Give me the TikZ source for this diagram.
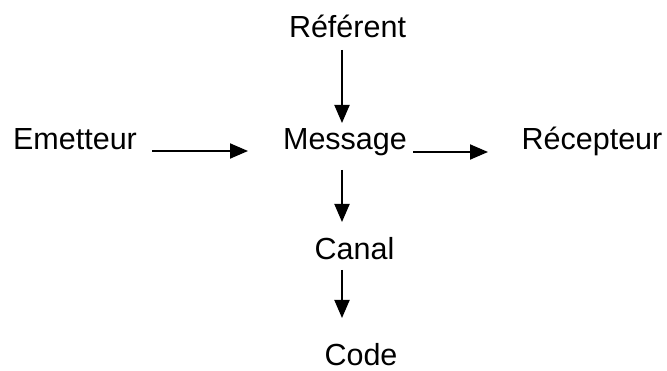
\documentclass[tikz,border=0pt]{standalone}
\usepackage{fontspec}
\setmainfont{Liberation Sans}
\usetikzlibrary{arrows.meta}
\begin{document}
\begin{tikzpicture}[x=1pt,y=-1pt,
  lbl/.style={inner sep=0pt, anchor=base, font=\fontsize{30.5}{34}\selectfont},
  arr/.style={line width=1.9pt, -{Triangle[length=18pt,width=15pt]}}]
\useasboundingbox (0,0) rectangle (667,371);

% terms of the communication scheme
\node[lbl] (ref)   at (347.5,38)  {Référent};
\node[lbl] (emet)  at (75,150)    {Emetteur};
\node[lbl] (msg)   at (345,150)   {Message};
\node[lbl] (rec)   at (592,150)   {Récepteur};
\node[lbl] (canal) at (354.5,260) {Canal};
\node[lbl] (code)  at (361,366)   {Code};

% vertical chain
\draw[arr] ([xshift=-5.5pt,yshift=-12pt]ref.base) -- ([xshift=-3pt,yshift=27pt]msg.base);
\draw[arr] ([xshift=-3pt,yshift=-20pt]msg.base) -- ([xshift=-12.5pt,yshift=38pt]canal.base);
\draw[arr] ([xshift=-12.5pt,yshift=-10pt]canal.base) -- ([xshift=-19pt,yshift=48pt]code.base);

% horizontal chain
\draw[arr] ([xshift=77pt,yshift=-1pt]emet.base) -- ([xshift=-97pt,yshift=-1pt]msg.base);
\draw[arr] ([xshift=68pt,yshift=-2pt]msg.base) -- ([xshift=-104pt,yshift=-2pt]rec.base);
\end{tikzpicture}
\end{document}
